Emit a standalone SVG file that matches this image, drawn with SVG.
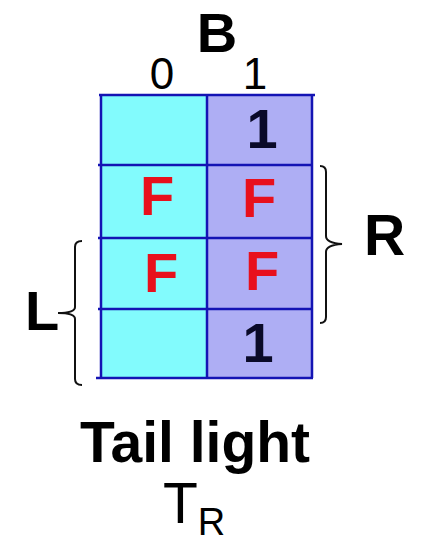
<svg xmlns="http://www.w3.org/2000/svg" width="424" height="549" viewBox="0 0 424 549">
  <style>
    .lbl { font-family: "Liberation Sans", Arial, sans-serif; fill: #000; }
    .b { font-weight: bold; }
    .f { font-family: "Liberation Sans", Arial, sans-serif; font-weight: bold; fill: #e8101c; font-size: 56px; text-anchor: middle; }
    .one { font-family: "Liberation Sans", Arial, sans-serif; font-weight: bold; fill: #0a0a28; font-size: 56px; text-anchor: middle; }
    .grid { stroke: #1414b4; stroke-width: 2.5; fill: none; }
    .brace { stroke: #111; stroke-width: 2; fill: none; }
  </style>
  <rect width="424" height="549" fill="#ffffff"/>
  <g id="kmap">
    <rect x="101" y="95" width="106" height="283" fill="#82fbfd"/>
    <rect x="207" y="95" width="105" height="283" fill="#aeaef4"/>
    <path class="grid" d="M99,95 H315 M98,165 H313 M98,238 H313 M98,309 H313 M96,378 H313 M101,95 V378 M207,95 V378 M312,95 V378"/>
  </g>
  <g id="header">
    <text class="lbl b" x="217" y="52" font-size="56" text-anchor="middle">B</text>
    <text class="lbl" x="162" y="89" font-size="44" text-anchor="middle">0</text>
    <text class="lbl" x="255" y="89" font-size="44" text-anchor="middle">1</text>
  </g>
  <g id="cells">
    <text class="one" x="262" y="148">1</text>
    <text class="f" x="157" y="215">F</text>
    <text class="f" x="259" y="217">F</text>
    <text class="f" x="161" y="292">F</text>
    <text class="f" x="262" y="290">F</text>
    <text class="one" x="258" y="362">1</text>
  </g>
  <g id="brace-R">
    <path class="brace" d="M320,166 Q326,166 326,172 L326,236 Q326,243 342,244 Q326,245 326,252 L326,317 Q326,323 320,323"/>
    <text class="lbl b" x="364" y="255" font-size="57">R</text>
  </g>
  <g id="brace-L">
    <path class="brace" d="M82,241 Q75,241 75,247 L75,307 Q75,313 58,313 Q75,313 75,319 L75,379 Q75,385 82,385"/>
    <text class="lbl b" x="25" y="330" font-size="56">L</text>
  </g>
  <g id="caption">
    <text class="lbl b" x="195" y="462" font-size="57" text-anchor="middle">Tail light</text>
    <text class="lbl" x="163" y="523" font-size="57">T<tspan font-size="38" dy="12">R</tspan></text>
  </g>
</svg>
